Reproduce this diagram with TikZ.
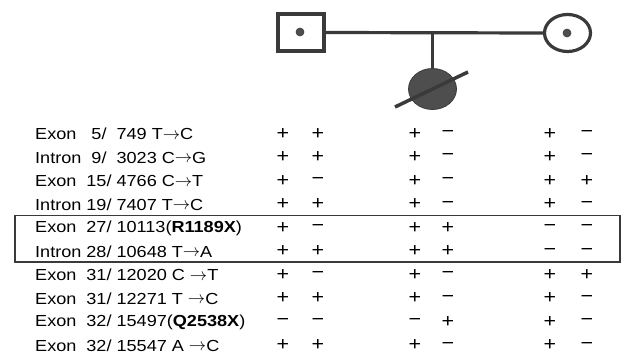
\documentclass[tikz,border=0pt]{standalone}
\usepackage{fontspec}
\setmainfont[FakeStretch=1.13]{Liberation Sans}
\usetikzlibrary{shapes.geometric}
\definecolor{ink}{HTML}{3A3A3A}
\definecolor{fillgr}{HTML}{4E4E4E}
\newcommand{\arr}{\raisebox{0.5pt}{$\rightarrow$}}
\tikzset{
  pedline/.style={draw=ink, line width=3.2pt},
  lbl/.style={anchor=west, inner sep=0pt, font=\fontsize{16}{16}\selectfont, text=black},
  sgn/.style={inner sep=0pt, font=\fontsize{19}{19}\selectfont, text=black},
  dotmark/.style={circle, fill=fillgr, draw=ink, line width=0.6pt, minimum size=8pt, inner sep=0pt},
  frame/.style={draw=ink, line width=1.6pt}
}
\begin{document}
\begin{tikzpicture}[x=1pt, y=-1pt]
\useasboundingbox (0,0) rectangle (621,356);
% pedigree
\node[pedline, rectangle, minimum width=46pt, minimum height=37pt, inner sep=0pt] (father) at (301,32.5) {};
\node[dotmark] (fdot) at (300,32) {};
\node[pedline, ellipse, minimum width=46pt, minimum height=37pt, inner sep=0pt] (mother) at (567.5,33) {};
\node[dotmark] (mdot) at (567,33) {};
\node[ellipse, fill=fillgr, draw=ink, line width=0.8pt, minimum width=48pt, minimum height=41pt, inner sep=0pt] (child) at (432.5,89) {};
\draw[pedline] (father.east) -- (mother.west);
\coordinate (drop) at (432.5,33);
\draw[pedline] (drop) -- (child.north);
\coordinate (slA) at (395,107);
\coordinate (slB) at (468,72);
\draw[draw=ink, line width=3.5pt] (slA) -- (slB);
% table
\node[lbl] (l1) at (35,134) {Exon~~ 5/~ 749 T\arr C};
\node[lbl] (l2) at (35,157.5) {Intron~ 9/~ 3023 C\arr G};
\node[lbl] (l3) at (35,181) {Exon~ 15/ 4766 C\arr T};
\node[lbl] (l4) at (35,204.5) {Intron 19/ 7407 T\arr C};
\node[lbl] (l5) at (35,228) {Exon~ 27/ 10113(\textbf{R1189X})};
\node[lbl] (l6) at (35,251.5) {Intron 28/ 10648 T\arr A};
\node[lbl] (l7) at (35,275) {Exon~ 31/ 12020 C \arr T};
\node[lbl] (l8) at (35,298.5) {Exon~ 31/ 12271 T \arr C};
\node[lbl] (l9) at (35,322) {Exon~ 32/ 15497(\textbf{Q2538X})};
\node[lbl] (l10) at (35,345.5) {Exon~ 32/ 15547 A \arr C};
\foreach \r/\y/\a/\b/\c/\d/\e/\f in {
 1/134/+/+/+/−/+/−,
 2/157.5/+/+/+/−/+/−,
 3/181/+/−/+/−/+/+,
 4/204.5/+/+/+/−/+/−,
 5/228/+/−/+/+/−/−,
 6/251.5/+/+/+/+/−/−,
 7/275/+/−/+/−/+/+,
 8/298.5/+/+/+/−/+/−,
 9/322/−/−/−/+/+/−,
 10/345.5/+/+/+/−/+/−}{
  \node[sgn] (s\r a) at (283,\y) {\a};
  \node[sgn] (s\r b) at (318,\y) {\b};
  \node[sgn] (s\r c) at (415,\y) {\c};
  \node[sgn] (s\r d) at (448,\y) {\d};
  \node[sgn] (s\r e) at (550,\y) {\e};
  \node[sgn] (s\r f) at (587,\y) {\f};
}
\draw[frame] (15,215.5) rectangle (620,262);
\end{tikzpicture}
\end{document}
